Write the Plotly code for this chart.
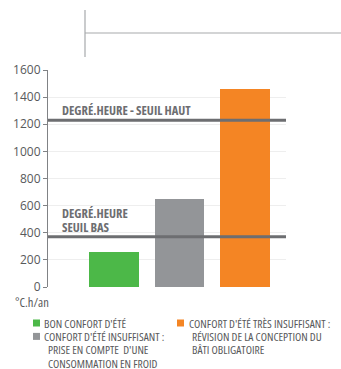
import plotly.graph_objects as go

# Summer comfort categories and their degree-hour values
categories = ["BON CONFORT D'ÉTÉ", "CONFORT D'ÉTÉ INSUFFISANT", "CONFORT D'ÉTÉ TRÈS INSUFFISANT"]
values = [260, 650, 1460]
colors = ["#4cb848", "#939598", "#f48524"]

# Degree-hour thresholds
seuil_haut = 1230
seuil_bas = 370
label_haut = "DEGRÉ.HEURE - SEUIL HAUT"
label_bas = ["DEGRÉ.HEURE", "SEUIL BAS"]

y_ticks = [0, 200, 400, 600, 800, 1000, 1200, 1400, 1600]
unit_label = "°C.h/an"

legend_col1 = [
    ("#4cb848", "BON CONFORT D'ÉTÉ", []),
    ("#939598", "CONFORT D'ÉTÉ INSUFFISANT :", ["PRISE EN COMPTE  D'UNE", "CONSOMMATION EN FROID"]),
]
legend_col2 = [
    ("#f48524", "CONFORT D'ÉTÉ TRÈS INSUFFISANT :", ["RÉVISION DE LA CONCEPTION DU", "BÂTI OBLIGATOIRE"]),
]

W, H = 341, 369
L, R, T, B = 48, 286, 70, 287
FONT = "Open Sans, Liberation Sans, sans-serif"
TXT = "#58595b"
LBL = "#6d6e71"


def px(x):
    return (x - L) / (R - L)


def py(y):
    return (B - y) / (B - T)


fig = go.Figure()
fig.add_trace(go.Bar(
    x=list(range(len(values))), y=values,
    marker=dict(color=colors, line=dict(width=0)),
    width=0.76, showlegend=False, hoverinfo="skip",
))

# Threshold lines across the full plot width
for yv in (seuil_haut, seuil_bas):
    fig.add_shape(type="line", xref="paper", yref="y", x0=0, x1=1, y0=yv, y1=yv,
                  line=dict(color=LBL, width=3), layer="above")

bold = dict(family=FONT, size=12.5, color=LBL, weight="bold")
fig.add_annotation(x=px(60), xref="paper", y=seuil_haut, yref="y", text=label_haut,
                   showarrow=False, xanchor="left", yanchor="bottom", yshift=-1, align="left",
                   font=bold)
# Two-line low-threshold label, set with a tight line spacing
for i, line in enumerate(reversed(label_bas)):
    fig.add_annotation(x=px(60), xref="paper", y=seuil_bas, yref="y", text=line,
                       showarrow=False, xanchor="left", yanchor="bottom", yshift=-1 + 13.5 * i,
                       align="left", font=bold)

# Unit label under the axis
fig.add_annotation(x=px(13), xref="paper", y=py(302), yref="paper", text=unit_label,
                   showarrow=False, xanchor="left", yanchor="middle", align="left",
                   font=dict(family=FONT, size=12.5, color=TXT))

# Decorative header lines
fig.add_shape(type="line", xref="paper", yref="paper", x0=px(85), x1=px(85), y0=py(10), y1=py(57),
              line=dict(color="#a7a9ac", width=1.2))
fig.add_shape(type="line", xref="paper", yref="paper", x0=px(85), x1=px(341), y0=py(33), y1=py(33),
              line=dict(color="#a7a9ac", width=1.2))

# Custom two-column legend
row_h = 13.4
leg_font = dict(family=FONT, size=11.5, color=TXT)


def draw_legend(items, sq_x, text_x, cont_x, y0):
    y = y0
    for col, head, cont in items:
        fig.add_shape(type="rect", xref="paper", yref="paper",
                      x0=px(sq_x), x1=px(sq_x + 7), y0=py(y + 3.5), y1=py(y - 3.5),
                      fillcolor=col, line=dict(width=0))
        fig.add_annotation(x=px(text_x), xref="paper", y=py(y), yref="paper", text=head,
                           showarrow=False, xanchor="left", yanchor="middle", align="left",
                           font=leg_font)
        y += row_h
        for line in cont:
            fig.add_annotation(x=px(cont_x), xref="paper", y=py(y), yref="paper", text=line,
                               showarrow=False, xanchor="left", yanchor="middle", align="left",
                               font=leg_font)
            y += row_h


draw_legend(legend_col1, 33, 42, 46, 323)
draw_legend(legend_col2, 177, 187, 190, 323)

fig.update_layout(
    width=W, height=H,
    margin=dict(l=L, r=W - R, t=T, b=H - B),
    paper_bgcolor="white", plot_bgcolor="white",
    bargap=0,
    xaxis=dict(range=[-1.0, 2.62], showticklabels=False, showgrid=False, zeroline=False,
               ticks="", showline=False, fixedrange=True),
    yaxis=dict(range=[0, 1600], tickvals=y_ticks, showgrid=True, gridcolor="#eeeeee", gridwidth=1,
               zeroline=False, showline=True, linecolor="#808285", linewidth=1.2,
               ticks="outside", ticklen=4, tickcolor="#808285", tickwidth=1,
               tickfont=dict(family=FONT, size=12, color=TXT),
               fixedrange=True),
    showlegend=False,
)

# Condensed width for the annotation texts
condense = """
var s = document.createElement('style');
s.textContent = '.js-plotly-plot .annotation-text { font-stretch: 75% !important; }';
document.head.appendChild(s);
"""
fig.write_html("out.html", config={"displayModeBar": False}, post_script=condense)
